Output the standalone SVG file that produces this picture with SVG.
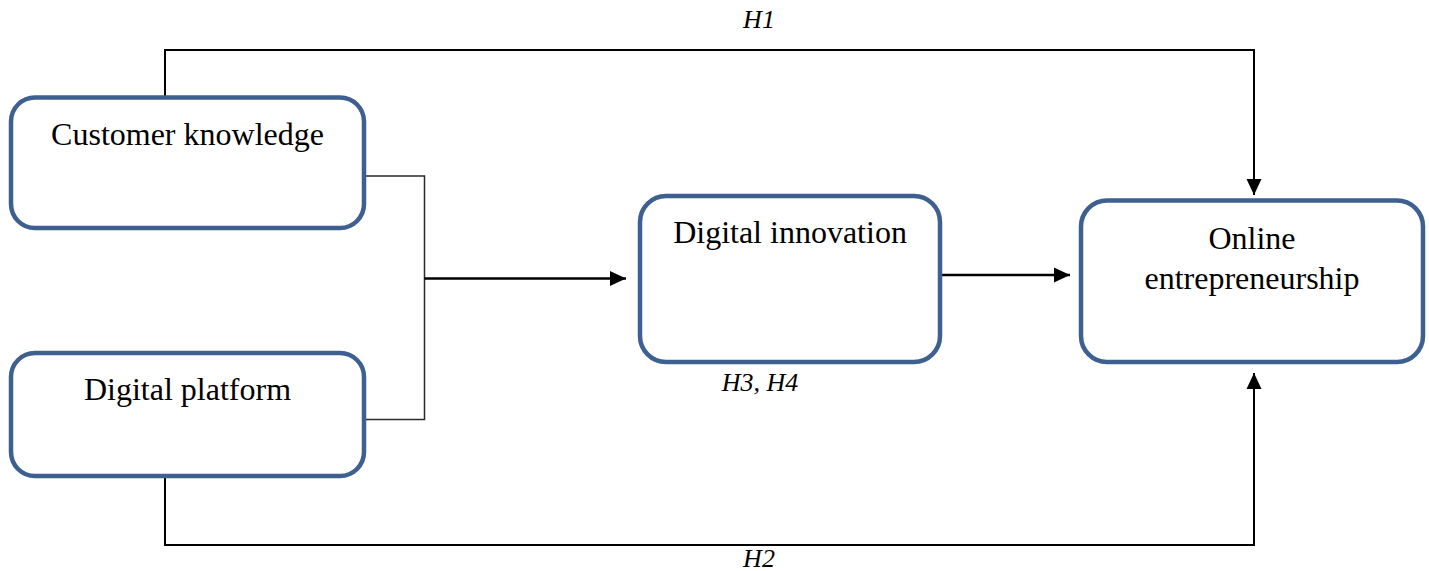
<svg xmlns="http://www.w3.org/2000/svg" width="1429" height="571" viewBox="0 0 1429 571">
  <style>
    .box { fill: #ffffff; stroke: #3E6090; stroke-width: 4.5; }
    .label { font-family: "Liberation Serif", "Times New Roman", serif; font-size: 32px; fill: #000000; text-anchor: middle; }
    .hyp { font-family: "Liberation Serif", "Times New Roman", serif; font-size: 26px; font-style: italic; fill: #000000; text-anchor: middle; }
    .link { fill: none; stroke: #000000; stroke-width: 2; }
    .thin { fill: none; stroke: #2a2a2a; stroke-width: 1.5; }
    .thick { fill: none; stroke: #000000; stroke-width: 2.5; }
  </style>
  <defs>
    <marker id="arrow" markerUnits="userSpaceOnUse" markerWidth="17" markerHeight="17" viewBox="0 0 17 17" refX="16" refY="8.5" orient="auto">
      <path d="M0,1 L16,8.5 L0,16 Z" fill="#000000"/>
    </marker>
  </defs>

  <rect width="1429" height="571" fill="#ffffff"/>

  <!-- connectors -->
  <g id="connectors">
    <!-- H1: customer knowledge over the top to online entrepreneurship -->
    <polyline class="link" points="165,96 165,50 1254,50 1254,195" marker-end="url(#arrow)"/>
    <!-- H2: digital platform along the bottom to online entrepreneurship -->
    <polyline class="link" points="165,478 165,545 1254,545 1254,373" marker-end="url(#arrow)"/>
    <!-- bracket joining both antecedents -->
    <polyline class="thin" points="366,176 424.5,176 424.5,419.5 366,419.5"/>
    <!-- bracket to digital innovation -->
    <line class="thick" x1="424.5" y1="278.5" x2="626" y2="278.5" marker-end="url(#arrow)"/>
    <!-- digital innovation to online entrepreneurship -->
    <line class="thick" x1="942" y1="275" x2="1070" y2="275" marker-end="url(#arrow)"/>
  </g>

  <g id="customer-knowledge">
    <rect class="box" x="11" y="97.5" width="353" height="130.5" rx="24" ry="24"/>
    <text class="label" x="187.5" y="145">Customer knowledge</text>
  </g>

  <g id="digital-platform">
    <rect class="box" x="11" y="353" width="353" height="123" rx="24" ry="24"/>
    <text class="label" x="187.5" y="400">Digital platform</text>
  </g>

  <g id="digital-innovation">
    <rect class="box" x="640" y="196" width="300" height="166" rx="26" ry="26"/>
    <text class="label" x="790" y="243">Digital innovation</text>
  </g>

  <g id="online-entrepreneurship">
    <rect class="box" x="1081" y="200.5" width="342" height="161.5" rx="26" ry="26"/>
    <text class="label" x="1252" y="249">Online</text>
    <text class="label" x="1252" y="289">entrepreneurship</text>
  </g>

  <g id="hypotheses">
    <text class="hyp" x="759" y="28">H1</text>
    <text class="hyp" x="759" y="567">H2</text>
    <text class="hyp" x="760" y="391">H3, H4</text>
  </g>
</svg>
